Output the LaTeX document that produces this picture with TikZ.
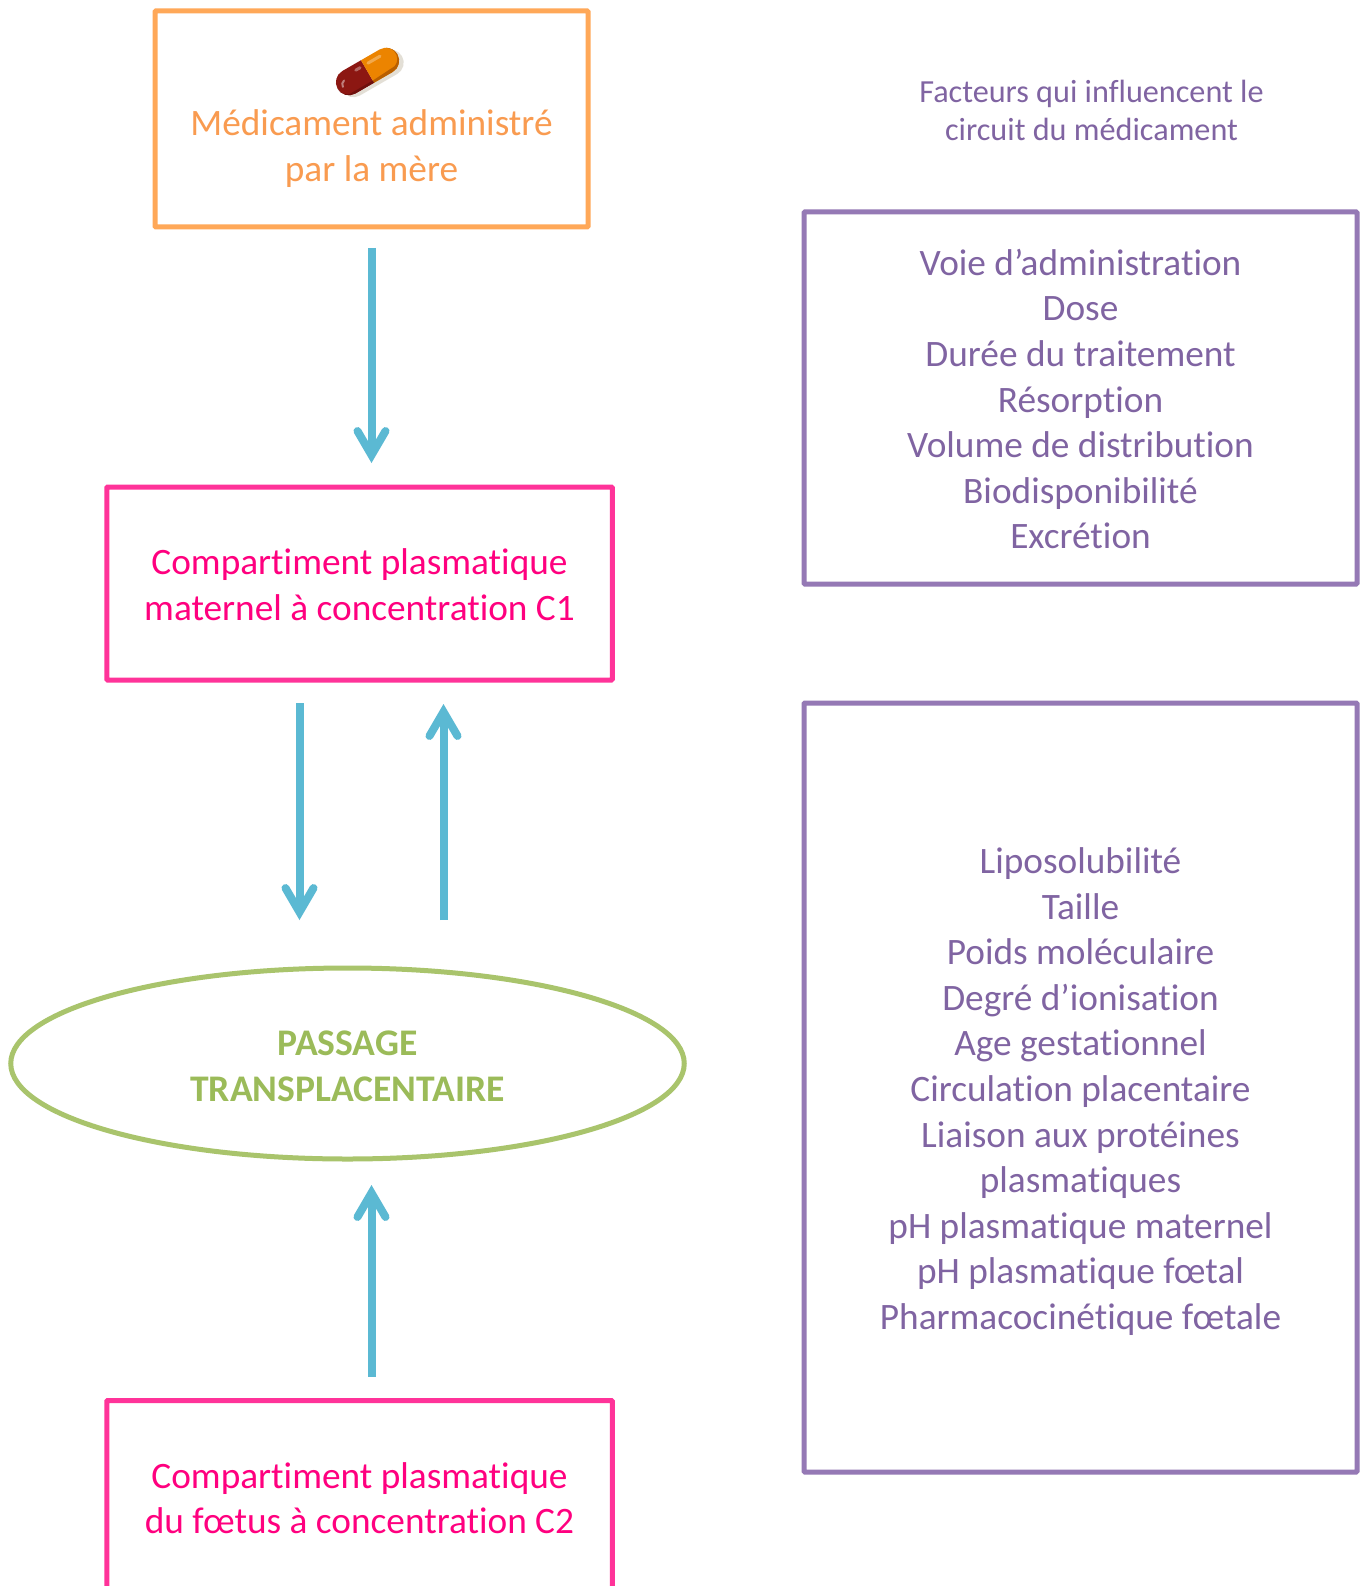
\documentclass[tikz,border=0pt]{standalone}
\usepackage{fontspec}
\setmainfont{Carlito}[Ligatures=NoCommon]
\usetikzlibrary{arrows.meta,shapes.geometric}
\definecolor{orangeline}{HTML}{FFA858}
\definecolor{orangetext}{HTML}{F99B50}
\definecolor{pinkline}{HTML}{FF3399}
\definecolor{pinktext}{HTML}{FF007F}
\definecolor{purpleline}{HTML}{9579B5}
\definecolor{purpletext}{HTML}{8064A2}
\definecolor{greenline}{HTML}{A9C46C}
\definecolor{greentext}{HTML}{9BBB59}
\definecolor{flowblue}{HTML}{5BB9D3}
\definecolor{pillred}{HTML}{8C1712}
\definecolor{pilldark}{HTML}{6E100D}
\definecolor{pillorange}{HTML}{EC8400}
\definecolor{pillbrown}{HTML}{B85F00}
\definecolor{pillshadow}{HTML}{E3DFD6}
\tikzset{
  x=1pt,y=-1pt,
  box/.style={draw,line width=5pt,rounded corners=1pt,inner sep=0pt,outer sep=0pt,align=center,font=\fontsize{37.3}{45.6}\selectfont},
  medbox/.style={box,draw=orangeline,text=orangetext,minimum width=433pt,minimum height=216pt},
  compbox/.style={box,draw=pinkline,text=pinktext,minimum width=505.5pt,minimum height=193pt},
  factorbox/.style={box,draw=purpleline,text=purpletext,minimum width=553pt},
  passage/.style={ellipse,draw=greenline,line width=5pt,inner sep=0pt,outer sep=0pt,align=center,text=greentext,minimum width=673.5pt,minimum height=191pt,font=\fontsize{37.6}{45.6}\selectfont\bfseries},
  heading/.style={text=purpletext,align=center,inner sep=0pt,font=\fontsize{32.2}{37.6}\selectfont},
  flow/.style={draw=flowblue,line width=8pt,-{Straight Barb[length=24pt,width=28pt,line cap=round,line join=miter]}}
}
\begin{document}
\begin{tikzpicture}
\useasboundingbox (0,0) rectangle (1365,1586);
\fill[white] (0,0) rectangle (1365,1586);
\node[medbox] (med) at (371.5,119) {\rule{0pt}{39pt}\\Médicament administré\\par la mère};
\node[compbox] (c1) at (359.5,583.5) {\rule{0pt}{28.5pt}Compartiment plasmatique\\maternel à concentration C1};
\node[passage] (pass) at (347.5,1063.5) {\rule{0pt}{30pt}PASSAGE\\TRANSPLACENTAIRE};
\node[compbox] (c2) at (359.5,1497) {\rule{0pt}{28pt}Compartiment plasmatique\\du fœtus à concentration C2};
\node[heading] (head) at (1091.5,110.5) {Facteurs qui influencent le\\circuit du médicament};
\node[factorbox,minimum height=372pt] (f1) at (1080.5,398) {\fontsize{37.3}{45.3}\selectfont\rule{0pt}{28.5pt}Voie d’administration\\Dose\\Durée du traitement\\Résorption\\Volume de distribution\\Biodisponibilité\\Excrétion};
\node[factorbox,minimum height=769pt] (f2) at (1080.5,1087.5) {\rule{0pt}{34pt}Liposolubilité\\Taille\\Poids moléculaire\\Degré d’ionisation\\Age gestationnel\\Circulation placentaire\\Liaison aux protéines\\plasmatiques\\pH plasmatique maternel\\pH plasmatique fœtal\\Pharmacocinétique fœtale};
% connectors
\draw[flow,shorten <=21pt,shorten >=24pt] (med.south) -- (med.south |- c1.north);
\draw[flow,shorten <=23pt,shorten >=48pt] ([xshift=-60pt]c1.south) -- ([xshift=-60pt]c1.south |- pass.north);
\draw[flow,shorten <=48pt,shorten >=24pt] ([xshift=84pt]c1.south |- pass.north) -- ([xshift=84pt]c1.south);
\draw[flow,shorten <=24pt,shorten >=26pt] (med.south |- c2.north) -- (med.south |- pass.south);
% pill
\begin{scope}[shift={(367.5,71.5)},rotate=30,x=1pt,y=1pt]
  \fill[pillshadow,xshift=3pt,yshift=-4pt] (-21.5,-13) -- (21.5,-13) arc (-90:90:13) -- (-21.5,13) arc (90:270:13) -- cycle;
  \fill[pillred] (0,-13) -- (-21.5,-13) arc (270:90:13) -- (0,13) -- cycle;
  \fill[pillorange] (0,-13) -- (21.5,-13) arc (-90:90:13) -- (0,13) -- cycle;
  \fill[pillbrown] (0,-13) -- (21.5,-13) arc (-90:60:13) arc (60:-70:11.2) -- (0,-10.5) -- cycle;
  \fill[pilldark] (0,-13) -- (-21.5,-13) arc (270:180:13) arc (180:250:11.2) -- (0,-10.5) -- cycle;
  \fill[white,opacity=.3,rounded corners=1.5pt] (3,5.5) rectangle (20,8.5);
  \fill[white,opacity=.35,rounded corners=1.5pt] (-11,5.5) rectangle (-3,8.5);
  \draw[white,opacity=.45,line width=2pt,line cap=round] (-29,-1) arc (180:100:5);
\end{scope}
\end{tikzpicture}
\end{document}
